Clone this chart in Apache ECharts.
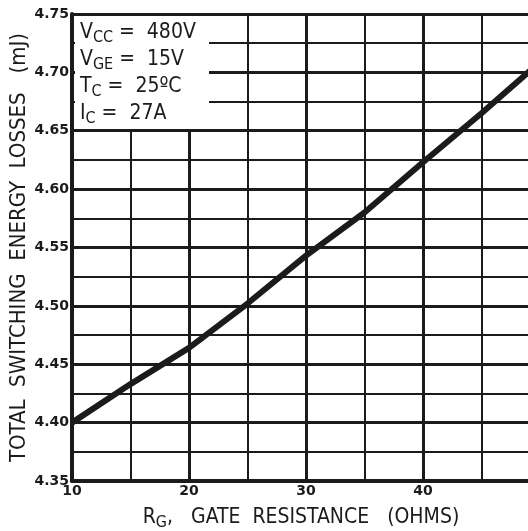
<!DOCTYPE html>
<html><head><meta charset="utf-8">
<script src="https://cdn.jsdelivr.net/npm/echarts@6/dist/echarts.min.js"></script>
<style>html,body{margin:0;padding:0;background:#fff}#c{width:528px;height:531px}</style>
</head><body><div id="c"></div>
<script>
const gateResistance = [10, 15, 20, 25, 30, 35, 40, 45, 50];
const switchingLoss = [4.400, 4.433, 4.464, 4.502, 4.543, 4.580, 4.623, 4.665, 4.709];
const xTicks = [10, 20, 30, 40];
const yTicks = [4.35, 4.40, 4.45, 4.50, 4.55, 4.60, 4.65, 4.70, 4.75];
const conditions = [
  ['V', 'CC', ' =  480V'],
  ['V', 'GE', ' =  15V'],
  ['T', 'C', ' =  25ºC'],
  ['I', 'C', ' =  27A']
];
const ink = '#1c1a1a';
const chart = echarts.init(document.getElementById('c'));
const f = "'Liberation Sans Narrow','DejaVu Sans Condensed','Liberation Sans',sans-serif";
const condGraphics = [{
  type: 'rect', shape: {x: 75, y: 16, width: 134, height: 113}, style: {fill: '#fff'}, z: 10
}];
conditions.forEach((c, i) => {
  condGraphics.push({
    type: 'text', x: 80, y: 20 + i * 27, z: 11,
    style: {
      rich: {
        m: {fontFamily: f, fontSize: 21, fill: ink, letterSpacing: 0.5},
        s: {fontFamily: f, fontSize: 16, fill: ink, padding: [10, 0, 0, 0]}
      },
      text: '{m|' + c[0] + '}{s|' + c[1] + '}{m|' + c[2] + '}'
    }
  });
});
chart.setOption({
  animation: false,
  grid: {left: 72, top: 14, width: 468, bottom: 50, containLabel: false, outerBoundsMode: 'none'},
  xAxis: {
    type: 'value', min: 10, max: 50, interval: 10,
    axisLine: {show: true, lineStyle: {color: ink, width: 4}},
    axisTick: {show: false},
    axisLabel: {
      color: ink, fontFamily: "'DejaVu Sans',sans-serif", fontWeight: 'bold', fontSize: 14, margin: 3,
      formatter: v => xTicks.includes(v) ? String(v) : ''
    },
    splitLine: {show: true, lineStyle: {color: ink, width: 3}},
    minorTick: {show: false, splitNumber: 2},
    minorSplitLine: {show: true, lineStyle: {color: ink, width: 2}},
    name: '{m|R}{s|G}{m|,   GATE  RESISTANCE   (OHMS)}',
    nameLocation: 'middle', nameGap: 24, nameMoveOverlap: false,
    nameTextStyle: {
      padding: [0, 0, 0, -10],
      rich: {
        m: {fontFamily: f, fontSize: 21, color: ink},
        s: {fontFamily: f, fontSize: 16, color: ink, padding: [10, 0, 0, 0]}
      }
    }
  },
  yAxis: {
    type: 'value', min: 4.35, max: 4.75, interval: 0.05,
    axisLine: {show: true, lineStyle: {color: ink, width: 4}},
    axisTick: {show: false},
    axisLabel: {
      color: ink, fontFamily: "'DejaVu Sans',sans-serif", fontWeight: 'bold', fontSize: 14, margin: 3,
      formatter: v => { const t = yTicks.find(y => Math.abs(y - v) < 1e-6); return t === undefined ? '' : t.toFixed(2); }
    },
    splitLine: {show: true, lineStyle: {color: ink, width: 3}},
    minorTick: {show: false, splitNumber: 2},
    minorSplitLine: {show: true, lineStyle: {color: ink, width: 2}},
    name: 'TOTAL  SWITCHING  ENERGY  LOSSES   (mJ)',
    nameLocation: 'middle', nameGap: 42, nameMoveOverlap: false,
    nameTextStyle: {fontFamily: f, fontSize: 22, color: ink}
  },
  graphic: condGraphics,
  series: [{
    type: 'line', data: gateResistance.map((x, i) => [x, switchingLoss[i]]),
    showSymbol: false, smooth: false, clip: true,
    lineStyle: {color: ink, width: 6}, z: 5
  }]
});
</script></body></html>
